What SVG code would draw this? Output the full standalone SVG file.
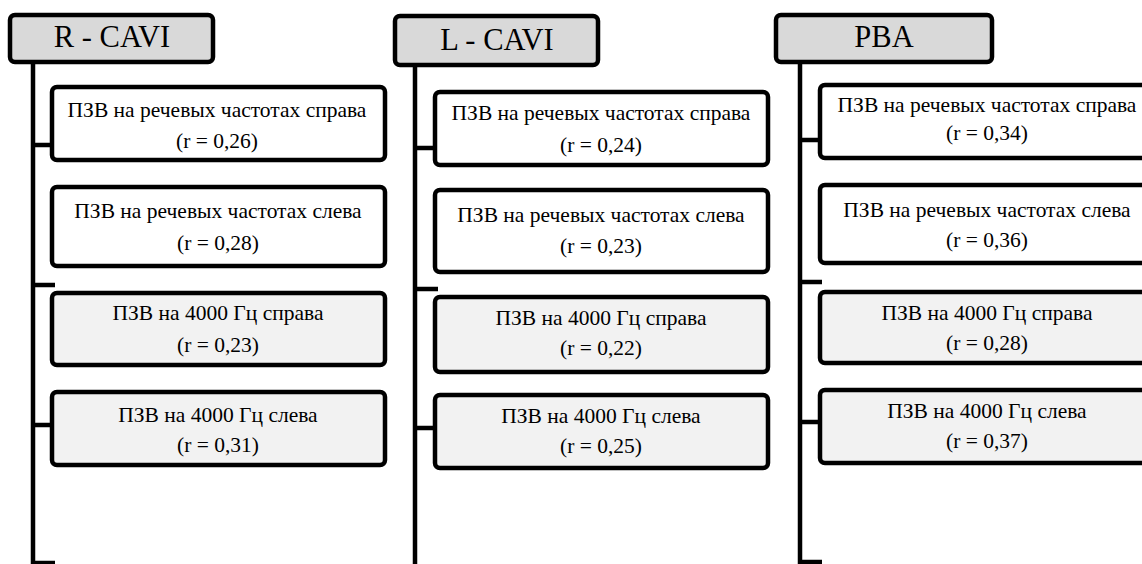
<svg xmlns="http://www.w3.org/2000/svg" width="1142" height="564" viewBox="0 0 1142 564">
<style>
.hdr{fill:#d9d9d9;stroke:#000;stroke-width:4.5}
.bw{fill:#fff;stroke:#000;stroke-width:4.5}
.bg{fill:#f2f2f2;stroke:#000;stroke-width:4.5}
.ln{stroke:#000;stroke-width:4.5;fill:none}
</style>
<rect width="1142" height="564" fill="#fff"/>
<g id="connectors">
<path class="ln" d="M33 62V564M33 145H53M33 285H55M33 425H53M33 563H55"/>
<path class="ln" d="M415 65V564M415 148H436M415 289H438M415 428H436"/>
<path class="ln" d="M800 62V564M800 140H821M800 282H822M800 422H821M800 562H822"/>
</g>
<g id="h1"><rect class="hdr" x="10" y="15" width="203" height="47" rx="5"/><text x="112" y="47" text-anchor="middle" font-family="Liberation Serif" font-size="30.5">R - CAVI</text></g>
<g id="h2"><rect class="hdr" x="395" y="16" width="203" height="49" rx="5"/><text x="497" y="50" text-anchor="middle" font-family="Liberation Serif" font-size="30.5">L - CAVI</text></g>
<g id="h3"><rect class="hdr" x="776" y="15" width="216" height="47" rx="5"/><text x="884" y="47" text-anchor="middle" font-family="Liberation Serif" font-size="30.5">PBA</text></g>

<g id="c1b1" text-anchor="middle"><rect class="bw" x="52" y="87" width="333" height="73" rx="5"/><text x="217" y="117" font-family="Liberation Serif" font-size="21.5">ПЗВ на речевых частотах справа</text><text x="217" y="148" font-family="Liberation Serif" font-size="21.5">(r = 0,26)</text></g>
<g id="c1b2" text-anchor="middle"><rect class="bw" x="52" y="187" width="333" height="79" rx="5"/><text x="218" y="218" font-family="Liberation Serif" font-size="21.5">ПЗВ на речевых частотах слева</text><text x="218" y="250" font-family="Liberation Serif" font-size="21.5">(r = 0,28)</text></g>
<g id="c1b3" text-anchor="middle"><rect class="bg" x="52" y="293" width="333" height="72" rx="5"/><text x="218" y="320" font-family="Liberation Serif" font-size="21.5">ПЗВ на 4000 Гц справа</text><text x="218" y="352" font-family="Liberation Serif" font-size="21.5">(r = 0,23)</text></g>
<g id="c1b4" text-anchor="middle"><rect class="bg" x="52" y="392" width="333" height="73" rx="5"/><text x="218" y="422" font-family="Liberation Serif" font-size="21.5">ПЗВ на 4000 Гц слева</text><text x="218" y="452" font-family="Liberation Serif" font-size="21.5">(r = 0,31)</text></g>

<g id="c2b1" text-anchor="middle"><rect class="bw" x="435" y="92" width="333" height="73" rx="5"/><text x="601" y="120" font-family="Liberation Serif" font-size="21.5">ПЗВ на речевых частотах справа</text><text x="601" y="152" font-family="Liberation Serif" font-size="21.5">(r = 0,24)</text></g>
<g id="c2b2" text-anchor="middle"><rect class="bw" x="435" y="190" width="333" height="82" rx="5"/><text x="601" y="222" font-family="Liberation Serif" font-size="21.5">ПЗВ на речевых частотах слева</text><text x="601" y="253" font-family="Liberation Serif" font-size="21.5">(r = 0,23)</text></g>
<g id="c2b3" text-anchor="middle"><rect class="bg" x="435" y="297" width="333" height="75" rx="5"/><text x="601" y="325" font-family="Liberation Serif" font-size="21.5">ПЗВ на 4000 Гц справа</text><text x="601" y="355" font-family="Liberation Serif" font-size="21.5">(r = 0,22)</text></g>
<g id="c2b4" text-anchor="middle"><rect class="bg" x="435" y="395" width="333" height="73" rx="5"/><text x="601" y="423" font-family="Liberation Serif" font-size="21.5">ПЗВ на 4000 Гц слева</text><text x="601" y="453" font-family="Liberation Serif" font-size="21.5">(r = 0,25)</text></g>

<g id="c3b1" text-anchor="middle"><rect class="bw" x="820" y="85" width="333" height="73" rx="5"/><text x="987" y="112" font-family="Liberation Serif" font-size="21.5">ПЗВ на речевых частотах справа</text><text x="987" y="140" font-family="Liberation Serif" font-size="21.5">(r = 0,34)</text></g>
<g id="c3b2" text-anchor="middle"><rect class="bw" x="820" y="185" width="333" height="78" rx="5"/><text x="987" y="217" font-family="Liberation Serif" font-size="21.5">ПЗВ на речевых частотах слева</text><text x="987" y="247" font-family="Liberation Serif" font-size="21.5">(r = 0,36)</text></g>
<g id="c3b3" text-anchor="middle"><rect class="bg" x="820" y="292" width="333" height="71" rx="5"/><text x="987" y="320" font-family="Liberation Serif" font-size="21.5">ПЗВ на 4000 Гц справа</text><text x="987" y="350" font-family="Liberation Serif" font-size="21.5">(r = 0,28)</text></g>
<g id="c3b4" text-anchor="middle"><rect class="bg" x="820" y="390" width="333" height="73" rx="5"/><text x="987" y="418" font-family="Liberation Serif" font-size="21.5">ПЗВ на 4000 Гц слева</text><text x="987" y="448" font-family="Liberation Serif" font-size="21.5">(r = 0,37)</text></g>
</svg>
